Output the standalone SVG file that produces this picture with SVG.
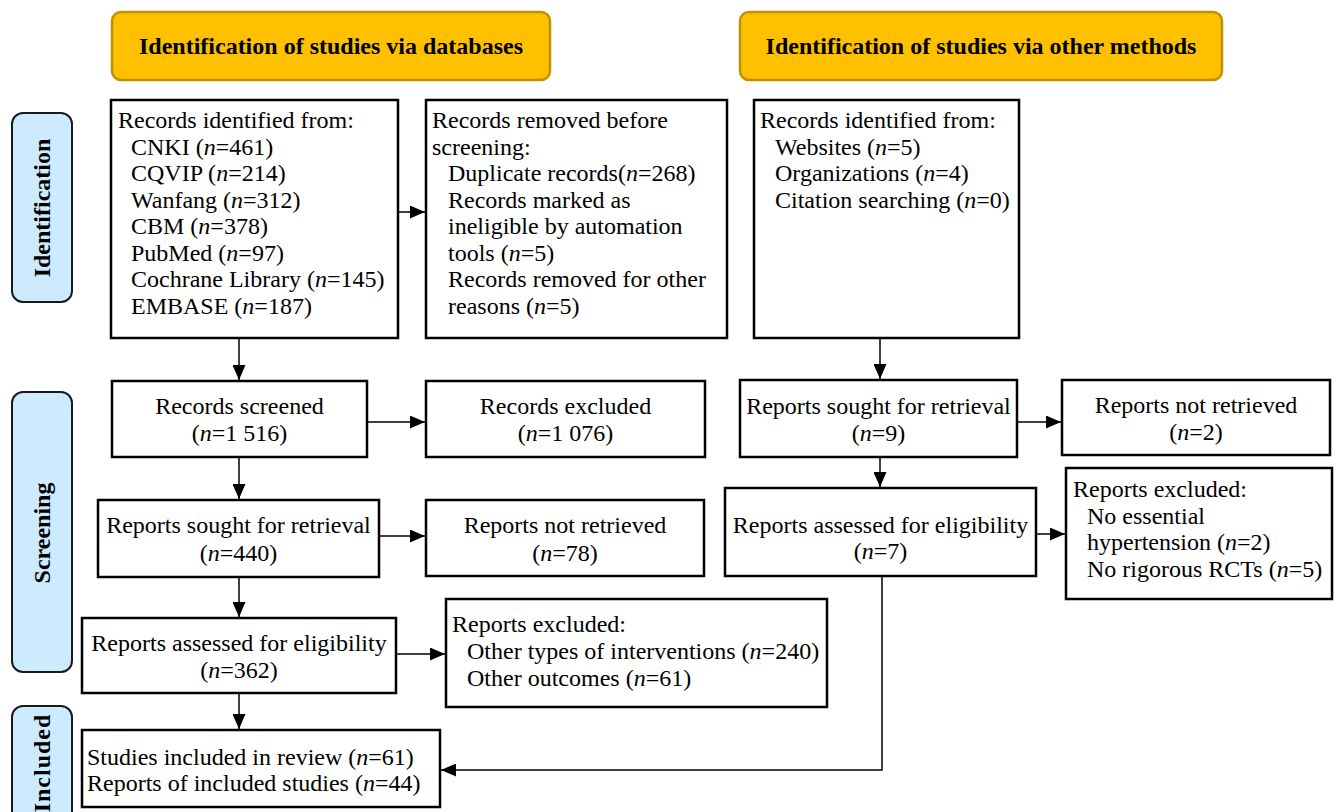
<svg xmlns="http://www.w3.org/2000/svg" width="1338" height="812" viewBox="0 0 1338 812">
<defs>
<marker id="arr" viewBox="0 0 15 13" markerWidth="15" markerHeight="13" refX="15" refY="6.5" orient="auto" markerUnits="userSpaceOnUse">
<path d="M0,0 L15,6.5 L0,13 z" fill="#000"/>
</marker>
<style>
.box{fill:#fff;stroke:#000;stroke-width:2.5}
.hdr{fill:#FFC000;stroke:#BF9000;stroke-width:2.5}
.side{fill:#CDEBFF;stroke:#1a1a1a;stroke-width:2}
.t{font-family:"Liberation Serif","Times New Roman",serif;font-size:24px;fill:#000}
.c{text-anchor:middle}
.b{font-weight:bold}
.i{font-style:italic}
.ln{fill:none;stroke:#000;stroke-width:1.5}
</style>
</defs>
<rect width="1338" height="812" fill="#fff"/>

<g id="hdr-db"><rect class="hdr" x="112" y="12" width="438" height="68" rx="9"/><text class="t c b" x="331" y="54">Identification of studies via databases</text></g>
<g id="hdr-other"><rect class="hdr" x="740" y="12" width="482" height="68" rx="9"/><text class="t c b" x="981" y="54">Identification of studies via other methods</text></g>

<g id="side-identification"><rect class="side" x="12" y="113" width="60" height="189" rx="11"/><text class="t c b" transform="translate(50,208) rotate(-90)">Identification</text></g>
<g id="side-screening"><rect class="side" x="12" y="392" width="60" height="280" rx="11"/><text class="t c b" transform="translate(50,533) rotate(-90)">Screening</text></g>
<g id="side-included"><rect class="side" x="12" y="706" width="60" height="130" rx="11"/><text class="t c b" letter-spacing="1" transform="translate(50,763) rotate(-90)">Included</text></g>

<g id="db-identified"><rect class="box" x="111" y="100" width="287" height="238"/>
<text class="t"><tspan x="118" y="128">Records identified from:</tspan>
<tspan x="131" y="154.5">CNKI (<tspan class="i">n</tspan>=461)</tspan>
<tspan x="131" y="181">CQVIP (<tspan class="i">n</tspan>=214)</tspan>
<tspan x="131" y="207.5">Wanfang (<tspan class="i">n</tspan>=312)</tspan>
<tspan x="131" y="234">CBM (<tspan class="i">n</tspan>=378)</tspan>
<tspan x="131" y="260.5">PubMed (<tspan class="i">n</tspan>=97)</tspan>
<tspan x="131" y="287">Cochrane Library (<tspan class="i">n</tspan>=145)</tspan>
<tspan x="131" y="313.5">EMBASE (<tspan class="i">n</tspan>=187)</tspan></text></g>

<g id="db-removed"><rect class="box" x="426" y="100" width="301" height="238"/>
<text class="t"><tspan x="432" y="128">Records removed before</tspan>
<tspan x="432" y="154.5">screening:</tspan>
<tspan x="448" y="181">Duplicate records(<tspan class="i">n</tspan>=268)</tspan>
<tspan x="448" y="207.5">Records marked as</tspan>
<tspan x="448" y="234">ineligible by automation</tspan>
<tspan x="448" y="260.5">tools (<tspan class="i">n</tspan>=5)</tspan>
<tspan x="448" y="287">Records removed for other</tspan>
<tspan x="448" y="313.5">reasons (<tspan class="i">n</tspan>=5)</tspan></text></g>

<g id="other-identified"><rect class="box" x="754" y="100" width="265" height="238"/>
<text class="t"><tspan x="760" y="128">Records identified from:</tspan>
<tspan x="775" y="154.5">Websites (<tspan class="i">n</tspan>=5)</tspan>
<tspan x="775" y="181">Organizations (<tspan class="i">n</tspan>=4)</tspan>
<tspan x="775" y="207.5">Citation searching (<tspan class="i">n</tspan>=0)</tspan></text></g>

<g id="db-screened"><rect class="box" x="112" y="381" width="255" height="76"/>
<text class="t c"><tspan x="239.5" y="414">Records screened</tspan><tspan x="239.5" y="441">(<tspan class="i">n</tspan>=1 516)</tspan></text></g>

<g id="db-excluded"><rect class="box" x="426" y="381" width="279" height="76"/>
<text class="t c"><tspan x="565.5" y="414">Records excluded</tspan><tspan x="565.5" y="441">(<tspan class="i">n</tspan>=1 076)</tspan></text></g>

<g id="db-sought"><rect class="box" x="98" y="500" width="281" height="77"/>
<text class="t c"><tspan x="238.5" y="533">Reports sought for retrieval</tspan><tspan x="238.5" y="561">(<tspan class="i">n</tspan>=440)</tspan></text></g>

<g id="db-notretrieved"><rect class="box" x="426" y="500" width="278" height="76"/>
<text class="t c"><tspan x="565" y="533">Reports not retrieved</tspan><tspan x="565" y="561">(<tspan class="i">n</tspan>=78)</tspan></text></g>

<g id="db-assessed"><rect class="box" x="82" y="618" width="314" height="75"/>
<text class="t c"><tspan x="239" y="651">Reports assessed for eligibility</tspan><tspan x="239" y="678">(<tspan class="i">n</tspan>=362)</tspan></text></g>

<g id="db-reports-excluded"><rect class="box" x="446" y="599" width="381" height="108"/>
<text class="t"><tspan x="452" y="632">Reports excluded:</tspan>
<tspan x="467" y="659">Other types of interventions (<tspan class="i">n</tspan>=240)</tspan>
<tspan x="467" y="686">Other outcomes (<tspan class="i">n</tspan>=61)</tspan></text></g>

<g id="included"><rect class="box" x="82" y="730" width="358" height="77"/>
<text class="t"><tspan x="87" y="765">Studies included in review (<tspan class="i">n</tspan>=61)</tspan>
<tspan x="87" y="791">Reports of included studies (<tspan class="i">n</tspan>=44)</tspan></text></g>

<g id="other-sought"><rect class="box" x="740" y="380" width="277" height="77"/>
<text class="t c"><tspan x="878.5" y="414">Reports sought for retrieval</tspan><tspan x="878.5" y="441">(<tspan class="i">n</tspan>=9)</tspan></text></g>

<g id="other-notretrieved"><rect class="box" x="1062" y="380" width="268" height="75"/>
<text class="t c"><tspan x="1196" y="413">Reports not retrieved</tspan><tspan x="1196" y="440">(<tspan class="i">n</tspan>=2)</tspan></text></g>

<g id="other-assessed"><rect class="box" x="725" y="488" width="311" height="88"/>
<text class="t c"><tspan x="880.5" y="533">Reports assessed for eligibility</tspan><tspan x="880.5" y="559">(<tspan class="i">n</tspan>=7)</tspan></text></g>

<g id="other-reports-excluded"><rect class="box" x="1066" y="468" width="266" height="131"/>
<text class="t"><tspan x="1073" y="497">Reports excluded:</tspan>
<tspan x="1087" y="524">No essential</tspan>
<tspan x="1087" y="550">hypertension (<tspan class="i">n</tspan>=2)</tspan>
<tspan x="1087" y="577">No rigorous RCTs (<tspan class="i">n</tspan>=5)</tspan></text></g>

<g id="connectors">
<line class="ln" x1="239" y1="339" x2="239" y2="380" marker-end="url(#arr)"/>
<line class="ln" x1="399" y1="212" x2="425" y2="212" marker-end="url(#arr)"/>
<line class="ln" x1="368" y1="422" x2="425" y2="422" marker-end="url(#arr)"/>
<line class="ln" x1="239" y1="458" x2="239" y2="499" marker-end="url(#arr)"/>
<line class="ln" x1="380" y1="536" x2="425" y2="536" marker-end="url(#arr)"/>
<line class="ln" x1="239" y1="578" x2="239" y2="617" marker-end="url(#arr)"/>
<line class="ln" x1="397" y1="654" x2="445" y2="654" marker-end="url(#arr)"/>
<line class="ln" x1="239" y1="694" x2="239" y2="729" marker-end="url(#arr)"/>
<line class="ln" x1="880" y1="339" x2="880" y2="379" marker-end="url(#arr)"/>
<line class="ln" x1="1018" y1="422" x2="1061" y2="422" marker-end="url(#arr)"/>
<line class="ln" x1="880" y1="458" x2="880" y2="487" marker-end="url(#arr)"/>
<line class="ln" x1="1037" y1="534" x2="1065" y2="534" marker-end="url(#arr)"/>
<polyline class="ln" points="882,577 882,770 441,770" marker-end="url(#arr)"/>
</g>
</svg>
